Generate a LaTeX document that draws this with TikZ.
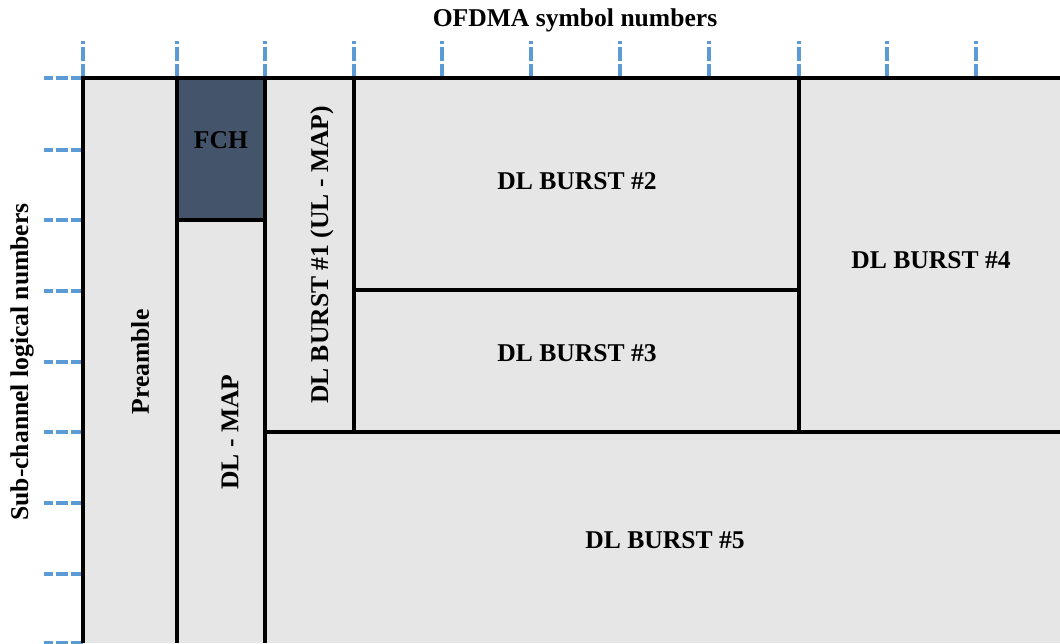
\documentclass[tikz,border=0pt]{standalone}
\usepackage{fontspec}
\setmainfont{Liberation Serif}

\definecolor{cellgray}{HTML}{E6E6E6}
\definecolor{fchblue}{HTML}{44546A}
\definecolor{tickblue}{HTML}{5B9BD5}

\tikzset{
    cell/.style={fill=cellgray},
    fch/.style={fill=fchblue},
    border/.style={line width=2pt},
    vtick/.style={tickblue, line width=1.8pt, dash pattern=on 7pt off 1.5pt},
    htick/.style={tickblue, line width=1.8pt, dash pattern=on 6pt off 1.5pt},
    lbl/.style={font=\fontsize{12.8}{15}\selectfont\bfseries, inner sep=0pt},
    vlbl/.style={lbl, rotate=90}
    }

\begin{document}
\begin{tikzpicture}[x=0.5pt, y=-0.5pt]
                \useasboundingbox (0,0) rectangle (1060,643);
                % The frame
                \fill[cell] (83,78) rectangle (1060,643);
                \fill[fch] (177,78) rectangle (265,220);
                % Ticks
                \foreach \x in {83,177,265,354,442,531,620,709,799,887,976}
                    \draw[vtick] (\x,78) -- (\x,41);
                \foreach \y in {78,150,220,291,362,432,503,574,643}
                    \draw[htick] (83,\y) -- (44,\y);
                % The grid
                \draw[border] (83,643) -- (83,78) -- (1060,78);
                \draw[border] (177,78) -- (177,643);
                \draw[border] (265,78) -- (265,643);
                \draw[border] (354,78) -- (354,432);
                \draw[border] (799,78) -- (799,432);
                \draw[border] (177,220) -- (265,220);
                \draw[border] (354,290) -- (799,290);
                \draw[border] (265,432) -- (1060,432);
                % Labels
                \node[lbl] (sym) at (575,20) {OFDMA symbol numbers};
                \node[vlbl] (sub) at (22,362) {Sub-channel logical numbers};
                \node[vlbl] (pre) at (140,362) {Preamble};
                \node[lbl] (fchl) at (221,140) {FCH};
                \node[vlbl] (dlmap) at (230,432) {DL - MAP};
                \node[vlbl] (b1) at (322,255) {DL BURST \#1 (UL - MAP)};
                \node[lbl] (b2) at (577,181) {DL BURST \#2};
                \node[lbl] (b3) at (577,353) {DL BURST \#3};
                \node[lbl] (b4) at (931,260) {DL BURST \#4};
                \node[lbl] (b5) at (665,540) {DL BURST \#5};
            \end{tikzpicture}
\end{document}
